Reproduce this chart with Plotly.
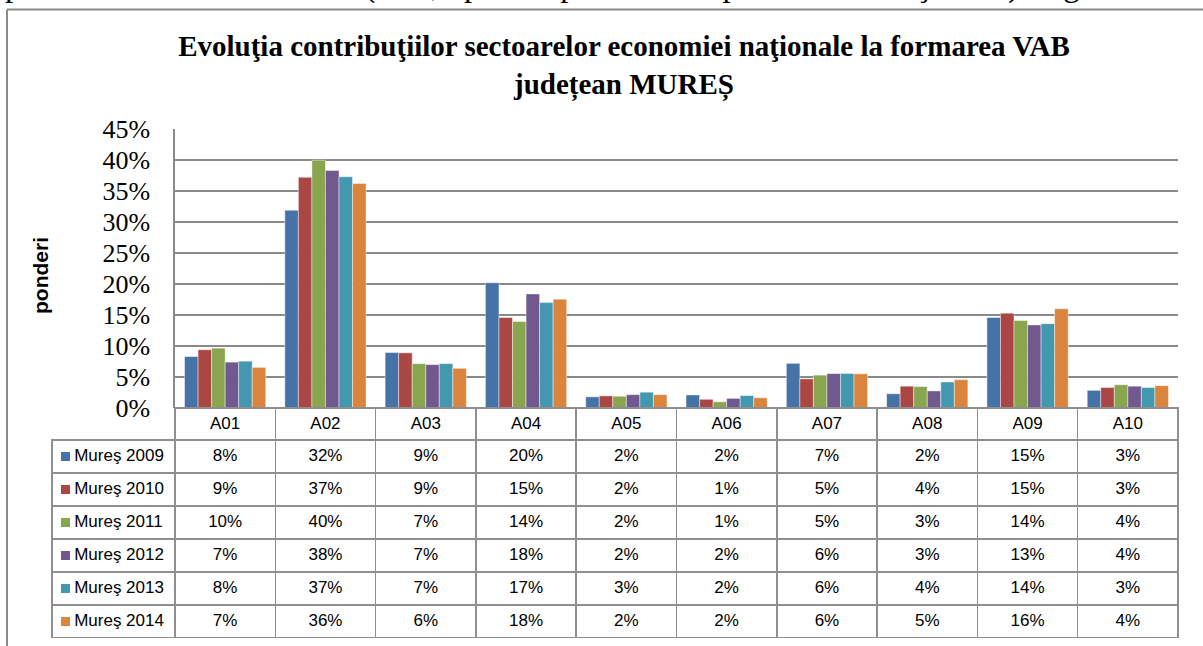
import plotly.graph_objects as go

# ---------------- data ----------------
categories = ["A01", "A02", "A03", "A04", "A05", "A06", "A07", "A08", "A09", "A10"]
series_names = ["Mureş 2009", "Mureş 2010", "Mureş 2011", "Mureş 2012", "Mureş 2013", "Mureş 2014"]
m2009 = [8.3, 31.9, 8.95, 20.2, 1.8, 2.1, 7.2, 2.3, 14.6, 2.85]
m2010 = [9.4, 37.2, 8.9, 14.6, 1.95, 1.4, 4.7, 3.52, 15.3, 3.3]
m2011 = [9.65, 39.95, 7.15, 13.95, 1.9, 1.0, 5.3, 3.45, 14.1, 3.75]
m2012 = [7.4, 38.3, 7.0, 18.4, 2.15, 1.55, 5.55, 2.75, 13.4, 3.52]
m2013 = [7.55, 37.3, 7.15, 17.0, 2.55, 2.0, 5.57, 4.2, 13.6, 3.3]
m2014 = [6.55, 36.2, 6.4, 17.55, 2.15, 1.65, 5.52, 4.57, 16.0, 3.6]
series_values = [m2009, m2010, m2011, m2012, m2013, m2014]
y_ticks = [0, 5, 10, 15, 20, 25, 30, 35, 40, 45]
y_tick_labels = ["0%", "5%", "10%", "15%", "20%", "25%", "30%", "35%", "40%", "45%"]

colors = ["#4572A7", "#AA4643", "#89A54E", "#71588F", "#4198AF", "#DB843D"]

W, H = 1203, 646
px_l, px_r = 175, 1178          # plot area, pixels
px_top, px_bot = 129, 408
tbl_left, tbl_bot = 52, 638
hdr_h, row_h = 32, 33

def fx(p):
    return p / W

def fy(p):
    return 1 - p / H

fig = go.Figure()

for name, vals, col in zip(series_names, series_values, colors):
    fig.add_trace(go.Bar(
        x=categories, y=vals, name=name,
        marker=dict(color=col, line=dict(color="rgba(255,255,255,0.55)", width=0.8)),
        showlegend=False,
    ))

# ---------------- data table ----------------
def fmt(v):
    return f"{int(v + 0.5)}%"

nb = "\u00a0"
row_labels = [nb * 3 + n.replace(" ", nb) for n in series_names]
cell_cols = [row_labels] + [[fmt(s[i]) for s in series_values] for i in range(len(categories))]
cat_w = (px_r - px_l) / len(categories)
grid = "#8f8f8f"
fig.add_trace(go.Table(
    domain=dict(x=[fx(tbl_left), fx(px_r)], y=[fy(tbl_bot), fy(px_bot)]),
    columnwidth=[px_l - tbl_left] + [cat_w] * len(categories),
    header=dict(
        values=[""] + categories,
        height=hdr_h,
        align="center",
        font=dict(family="Liberation Sans, Arial", size=17, color="black"),
        fill=dict(color=["rgba(0,0,0,0)"] + ["white"] * len(categories)),
        line=dict(color=grid, width=[0] + [1.5] * len(categories)),
    ),
    cells=dict(
        values=cell_cols,
        height=row_h,
        align=["left"] + ["center"] * len(categories),
        font=dict(family="Liberation Sans, Arial", size=17, color="black"),
        fill=dict(color="white"),
        line=dict(color=grid, width=1.5),
    ),
))

# legend keys inside the row-header column of the data table
key_shapes = []
for i, col in enumerate(colors):
    cy = px_bot + hdr_h + row_h * i + row_h / 2
    key_shapes.append(dict(type="rect", xref="paper", yref="paper",
                           x0=fx(61), x1=fx(70), y0=fy(cy + 4.5), y1=fy(cy - 4.5),
                           fillcolor=col, line=dict(width=0), layer="above"))

fig.update_layout(
    width=W, height=H,
    paper_bgcolor="white", plot_bgcolor="white",
    margin=dict(l=0, r=0, t=0, b=0),
    barmode="group", bargap=0.19, bargroupgap=0,
    title=dict(
        text="Evoluţia contribuţiilor sectoarelor economiei naţionale la formarea VAB<br>județean MUREȘ",
        x=fx(624), xanchor="center", y=fy(56), yanchor="top", yref="container",
        font=dict(family="Liberation Serif, Times New Roman", size=29, color="black", weight="bold"),
    ),
    xaxis=dict(
        domain=[fx(px_l), fx(px_r)], showticklabels=False, showgrid=False,
        showline=False, zeroline=False, automargin=False, fixedrange=True,
    ),
    yaxis=dict(
        domain=[fy(px_bot), fy(px_top)], range=[0, 45],
        tickmode="array", tickvals=y_ticks, ticktext=y_tick_labels,
        showgrid=True, gridcolor="#8a8a8a", gridwidth=1.5, zeroline=False,
        showline=True, linecolor="#8a8a8a", linewidth=1.5,
        ticks="", ticklabelstandoff=18, automargin=False,
        tickfont=dict(family="Liberation Serif, Times New Roman", size=26, color="black"),
    ),
    shapes=[
        dict(type="line", xref="paper", yref="paper", x0=fx(7), x1=1, y0=fy(9.5), y1=fy(9.5),
             line=dict(color="#8a8a8a", width=2)),
        dict(type="line", xref="paper", yref="paper", x0=fx(7), x1=fx(7), y0=fy(9.5), y1=0,
             line=dict(color="#8a8a8a", width=2)),
    ] + key_shapes,
    annotations=[
        dict(text="ponderea mare a industriei (cu 6,7 puncte procentuale peste media naţională). Fig.3.5",
             xref="paper", yref="paper", x=fx(3), y=1, xanchor="left", yanchor="bottom",
             yshift=-6, showarrow=False,
             font=dict(family="Liberation Serif, Times New Roman", size=33, color="black")),
        dict(text="<b>ponderi</b>", textangle=-90, xref="paper", yref="paper",
             x=fx(40), y=fy(276), xanchor="center", yanchor="middle", showarrow=False,
             font=dict(family="Liberation Sans, Arial", size=21, color="black")),
    ],
)

fig.write_html("out.html",
               config={"displayModeBar": False},
               post_script="document.body.style.margin='0';document.body.style.overflow='hidden';")
